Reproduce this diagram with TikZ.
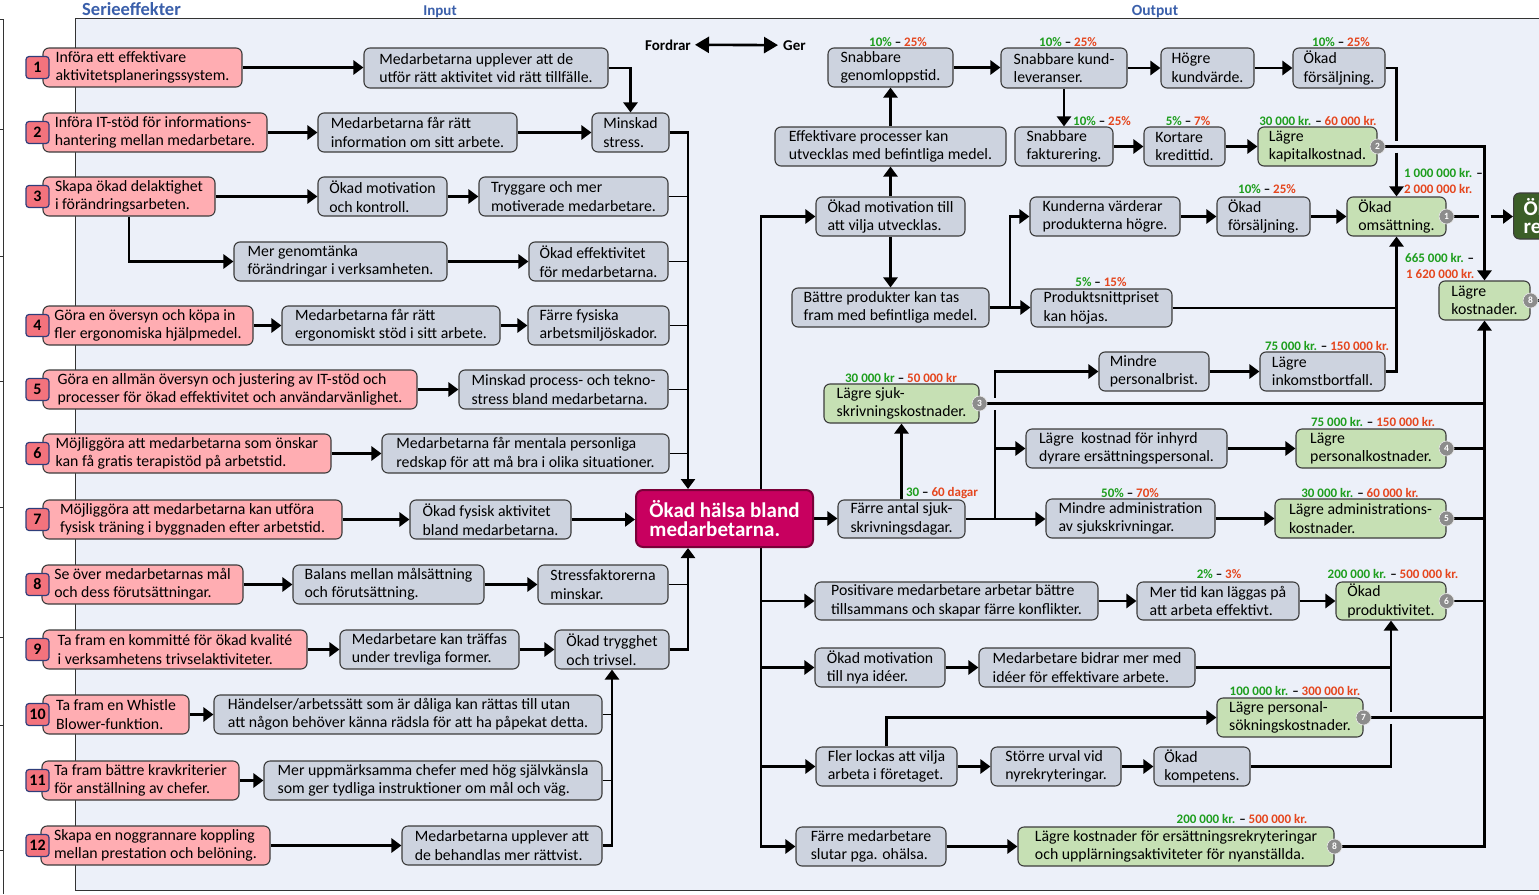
\documentclass[tikz,border=0pt]{standalone}
\usepackage{fontspec}
\setmainfont{Carlito}
\usetikzlibrary{arrows.meta,calc}
\definecolor{panelbg}{HTML}{ECF0F9}
\definecolor{gfill}{HTML}{CDD3DF}
\definecolor{bdr}{HTML}{3C3C3C}
\definecolor{rfill}{HTML}{FFADB2}
\definecolor{rbadge}{HTML}{F3737D}
\definecolor{rbadgeb}{HTML}{2F3D7A}
\definecolor{grfill}{HTML}{C6E0B4}
\definecolor{cfill}{HTML}{C8005F}
\definecolor{cdraw}{HTML}{7A0038}
\definecolor{dgfill}{HTML}{3B5E28}
\definecolor{lgreen}{HTML}{1E9E1E}
\definecolor{lred}{HTML}{E5461E}
\definecolor{tblue}{HTML}{3A5FAA}
\definecolor{gbadge}{HTML}{8C8C8C}
\pgfdeclarelayer{back}
\pgfdeclarelayer{lines}
\pgfsetlayers{back,lines,main}
\newcommand\mkbox[7]{%
 \pgfmathsetmacro\mkbw{#5-#3}%
 \pgfmathsetmacro\mkbh{#6-#4}%
 \pgfmathsetmacro\mkbx{(#3+#5)/2}%
 \pgfmathsetmacro\mkby{(#4+#6)/2}%
 \node[#2, minimum width=\mkbw pt, minimum height=\mkbh pt] (#1) at (\mkbx,\mkby) {#7};}
\newcommand\mklbl[5]{\node[lblsty] (#1) at (#2,#3) {\textcolor{lgreen}{#4} – \textcolor{lred}{#5}};}
\begin{document}
\begin{tikzpicture}[x=1pt,y=-1pt,
 mybox/.style={rounded corners=6pt, line width=1.1pt, draw=bdr, align=left, inner xsep=2pt, inner ysep=1pt, font=\fontsize{15.8pt}{18.5pt}\selectfont},
 gbox/.style={mybox, fill=gfill},
 rbox/.style={mybox, fill=rfill},
 grbox/.style={mybox, fill=grfill},
 cbox/.style={rounded corners=7pt, line width=2pt, draw=cdraw, fill=cfill, text=white, align=left, inner sep=1pt, font=\bfseries\fontsize{21pt}{18.5pt}\selectfont},
 dgbox/.style={rounded corners=6pt, line width=1.1pt, draw=bdr, fill=dgfill, text=white, align=left, inner xsep=10pt, minimum height=46pt, font=\bfseries\fontsize{21pt}{18pt}\selectfont},
 rnum/.style={rounded corners=3pt, line width=1.2pt, draw=rbadgeb, fill=rbadge, minimum width=23pt, minimum height=22pt, inner sep=0pt, font=\bfseries\fontsize{16pt}{16pt}\selectfont},
 gnum/.style={circle, fill=gbadge, draw=white!85!gray, line width=0.6pt, minimum size=15pt, inner sep=0pt, text=white, font=\bfseries\fontsize{9.5pt}{9.5pt}\selectfont},
 lblsty/.style={anchor=base, inner sep=0pt, font=\bfseries\fontsize{13pt}{13pt}\selectfont},
 lgd/.style={inner sep=0pt, font=\bfseries\fontsize{15pt}{15pt}\selectfont},
 conn/.style={line width=2.6pt},
 connthin/.style={line width=1pt},
 conarr/.style={conn, -{Triangle[length=10pt,width=14pt]}},
]
\useasboundingbox (0,0) rectangle (1539,894);
\begin{pgfonlayer}{back}
 \fill[panelbg] (75,18) rectangle (1545,890);
 \draw[line width=1pt, draw=black!80] (1545,18) -- (75,18) -- (75,890) -- (1545,890);
 \draw[line width=0.8pt, draw=black!80] (3.5,19) -- (3.5,894);
 \foreach \yy in {19,129,256,381,507,637,725,850} \draw[line width=0.8pt, draw=black!80] (0,\yy) -- (3.5,\yy);
\end{pgfonlayer}

% titles
\node[anchor=base west, inner sep=0pt, text=tblue, font=\bfseries\fontsize{18.5pt}{18pt}\selectfont] (tser) at (82,16) {Serieeffekter};
\node[anchor=base, inner sep=0pt, text=tblue, font=\bfseries\fontsize{15pt}{15pt}\selectfont] (tin) at (440,15) {Input};
\node[anchor=base, inner sep=0pt, text=tblue, font=\bfseries\fontsize{15.5pt}{15pt}\selectfont] (tout) at (1155,15) {Output};

% legend
\node[lgd, anchor=base east] (fo) at (691,50) {Fordrar};
\node[lgd, anchor=base west] (ge) at (783,50) {Ger};

% red boxes
\mkbox{R1}{rbox}{43}{48}{242}{87}{Införa ett effektivare\\aktivitetsplaneringssystem.}
\mkbox{R2}{rbox}{43}{113}{267}{152}{Införa IT-stöd för informations-\\hantering mellan medarbetare.}
\mkbox{R3}{rbox}{43}{177}{215}{216}{Skapa ökad delaktighet\\i förändringsarbeten.}
\mkbox{R4}{rbox}{43}{306}{253}{345}{Göra en översyn och köpa in\\fler ergonomiska hjälpmedel.}
\mkbox{R5}{rbox}{43}{370}{417}{409}{Göra en allmän översyn och justering av IT-stöd och\\processer för ökad effektivitet och användarvänlighet.}
\mkbox{R6}{rbox}{43}{434}{331}{473}{Möjliggöra att medarbetarna som önskar\\kan få gratis terapistöd på arbetstid.}
\mkbox{R7}{rbox}{43}{500}{342}{539}{Möjliggöra att medarbetarna kan utföra\\fysisk träning i byggnaden efter arbetstid.}
\mkbox{R8}{rbox}{42}{565}{243}{604}{Se över medarbetarnas mål\\och dess förutsättningar.}
\mkbox{R9}{rbox}{43}{630}{307}{669}{Ta fram en kommitté för ökad kvalité\\i verksamhetens trivselaktiviteter.}
\mkbox{R10}{rbox}{43}{695}{189}{734}{Ta fram en Whistle\\Blower-funktion.}
\mkbox{R11}{rbox}{42}{761}{239}{800}{Ta fram bättre kravkriterier\\för anställning av chefer.}
\mkbox{R12}{rbox}{41}{826}{270}{865}{Skapa en noggrannare koppling\\mellan prestation och belöning.}

\coordinate (bcol) at (37.5,0);
\node[rnum] (n1) at (bcol |- R1.west) {1};
\node[rnum] (n2) at (bcol |- R2.west) {2};
\node[rnum] (n3) at (bcol |- R3.west) {3};
\node[rnum] (n4) at (bcol |- R4.west) {4};
\node[rnum] (n5) at (bcol |- R5.west) {5};
\node[rnum] (n6) at (bcol |- R6.west) {6};
\node[rnum] (n7) at (bcol |- R7.west) {7};
\node[rnum] (n8) at (bcol |- R8.west) {8};
\node[rnum] (n9) at (bcol |- R9.west) {9};
\node[rnum] (n10) at (bcol |- R10.west) {10};
\node[rnum] (n11) at (bcol |- R11.west) {11};
\node[rnum] (n12) at (bcol |- R12.west) {12};

% grey input boxes
\mkbox{G1}{gbox}{364}{48}{608}{88}{Medarbetarna upplever att de\\utför rätt aktivitet vid rätt tillfälle.}
\mkbox{G2}{gbox}{318}{113}{517}{152}{Medarbetarna får rätt\\information om sitt arbete.}
\mkbox{G3}{gbox}{592}{113}{669}{152}{Minskad\\stress.}
\mkbox{G4}{gbox}{318}{177}{447}{216}{Ökad motivation\\och kontroll.}
\mkbox{G5}{gbox}{479}{177}{668}{216}{Tryggare och mer\\motiverade medarbetare.}
\mkbox{G6}{gbox}{234}{242}{447}{281}{Mer genomtänka\\förändringar i verksamheten.}
\mkbox{G7}{gbox}{529}{242}{668}{281}{Ökad effektivitet\\för medarbetarna.}
\mkbox{G8}{gbox}{282}{306}{500}{345}{Medarbetarna får rätt\\ergonomiskt stöd i sitt arbete.}
\mkbox{G9}{gbox}{528}{306}{669}{345}{Färre fysiska\\arbetsmiljöskador.}
\mkbox{G10}{gbox}{459}{370}{668}{409}{Minskad process- och tekno-\\stress bland medarbetarna.}
\mkbox{G11}{gbox}{382}{434}{669}{473}{Medarbetarna får mentala personliga\\redskap för att må bra i olika situationer.}
\mkbox{G12}{gbox}{410}{500}{571}{539}{Ökad fysisk aktivitet\\bland medarbetarna.}
\mkbox{G13}{gbox}{293}{565}{484}{604}{Balans mellan målsättning\\och förutsättning.}
\mkbox{G14}{gbox}{538}{565}{668}{604}{Stressfaktorerna\\minskar.}
\mkbox{G15}{gbox}{340}{630}{519}{669}{Medarbetare kan träffas\\under trevliga former.}
\mkbox{G16}{gbox}{555}{630}{669}{669}{Ökad trygghet\\och trivsel.}
\mkbox{G17}{gbox}{214}{695}{602}{734}{Händelser/arbetssätt som är dåliga kan rättas till utan\\att någon behöver känna rädsla för att ha påpekat detta.}
\mkbox{G18}{gbox}{264}{761}{602}{800}{Mer uppmärksamma chefer med hög självkänsla\\som ger tydliga instruktioner om mål och väg.}
\mkbox{G19}{gbox}{402}{826}{602}{865}{Medarbetarna upplever att\\de behandlas mer rättvist.}

% hub
\mkbox{hub}{cbox}{636}{490}{813}{547}{Ökad hälsa bland\\medarbetarna.}

% output boxes
\mkbox{O1}{gbox}{828}{48}{953}{87}{Snabbare\\genomloppstid.}
\mkbox{O2}{gbox}{1001}{48}{1127}{88}{Snabbare kund-\\leveranser.}
\mkbox{O3}{gbox}{1161}{48}{1254}{88}{Högre\\kundvärde.}
\mkbox{O4}{gbox}{1293}{48}{1385}{88}{Ökad\\försäljning.}
\mkbox{O5}{gbox}{775}{127}{1006}{166}{Effektivare processer kan\\utvecklas med befintliga medel.}
\mkbox{O6}{gbox}{1015}{127}{1113}{166}{Snabbare\\fakturering.}
\mkbox{O7}{gbox}{1144}{127}{1225}{166}{Kortare\\kredittid.}
\mkbox{O8}{grbox}{1258}{127}{1377}{166}{Lägre\\kapitalkostnad.}
\mkbox{O9}{gbox}{816}{197}{965}{236}{Ökad motivation till\\att vilja utvecklas.}
\mkbox{O10}{gbox}{1030}{197}{1180}{236}{Kunderna värderar\\produkterna högre.}
\mkbox{O11}{gbox}{1217}{197}{1310}{236}{Ökad\\försäljning.}
\mkbox{O12}{grbox}{1347}{197}{1446}{236}{Ökad\\omsättning.}
\node[dgbox, anchor=west] (O13) at (1513,216) {Ökat\\resultat.};
\mkbox{O14}{grbox}{1439}{281}{1530}{320}{Lägre\\kostnader.}
\mkbox{O15}{gbox}{792}{288}{989}{327}{Bättre produkter kan tas\\fram med befintliga medel.}
\mkbox{O16}{gbox}{1031}{289}{1172}{327}{Produktsnittpriset\\kan höjas.}
\mkbox{O17}{gbox}{1099}{352}{1209}{391}{Mindre\\personalbrist.}
\mkbox{O18}{gbox}{1260}{352}{1385}{391}{Lägre\\inkomstbortfall.}
\mkbox{O19}{grbox}{824}{384}{979}{423}{Lägre sjuk-\\skrivningskostnader.}
\mkbox{O20}{gbox}{1026}{429}{1227}{468}{Lägre~ kostnad för inhyrd\\dyrare ersättningspersonal.}
\mkbox{O21}{grbox}{1296}{429}{1446}{468}{Lägre\\personalkostnader.}
\mkbox{O22}{gbox}{838}{500}{965}{538}{Färre antal sjuk-\\skrivningsdagar.}
\mkbox{O27}{gbox}{1046}{499}{1215}{538}{Mindre administration\\av sjukskrivningar.}
\mkbox{O28}{grbox}{1275}{499}{1446}{538}{Lägre administrations-\\kostnader.}
\mkbox{O23}{gbox}{815}{582}{1098}{620}{Positivare medarbetare arbetar bättre\\tillsammans och skapar färre konflikter.}
\mkbox{O29}{gbox}{1137}{582}{1299}{620}{Mer tid kan läggas på\\att arbeta effektivt.}
\mkbox{O30}{grbox}{1336}{582}{1446}{620}{Ökad\\produktivitet.}
\mkbox{O24}{gbox}{815}{648}{945}{687}{Ökad motivation\\till nya idéer.}
\mkbox{O31}{gbox}{979}{648}{1195}{687}{Medarbetare bidrar mer med\\idéer för effektivare arbete.}
\mkbox{O32}{grbox}{1217}{698}{1363}{737}{Lägre personal-\\sökningskostnader.}
\mkbox{O25}{gbox}{816}{747}{957}{786}{Fler lockas att vilja\\arbeta i företaget.}
\mkbox{O33}{gbox}{991}{747}{1121}{786}{Större urval vid\\nyrekryteringar.}
\mkbox{O34}{gbox}{1154}{747}{1250}{786}{Ökad\\kompetens.}
\mkbox{O26}{gbox}{796}{827}{946}{866}{Färre medarbetare\\slutar pga. ohälsa.}
\mkbox{O35}{grbox}{1018}{827}{1334}{866}{Lägre kostnader för ersättningsrekryteringar\\och upplärningsaktiviteter för nyanställda.}

% grey badges
\node[gnum] (b1) at (O12.east) {1};
\node[gnum] (b2) at (O8.east) {2};
\node[gnum] (b3) at (O19.east) {3};
\node[gnum] (b4) at (O21.east) {4};
\node[gnum] (b5) at (O28.east) {5};
\node[gnum] (b6) at (O30.east) {6};
\node[gnum] (b7) at (O32.east) {7};
\node[gnum] (b8) at (O14.east) {8};
\node[gnum] (b8b) at (O35.east) {8};

% value labels
\mklbl{l1}{898}{46}{10\%}{25\%}
\mklbl{l2}{1068}{46}{10\%}{25\%}
\mklbl{l3}{1341}{46}{10\%}{25\%}
\mklbl{l4}{1102}{125}{10\%}{25\%}
\mklbl{l5}{1188}{125}{5\%}{7\%}
\mklbl{l6}{1318}{125}{30 000 kr.}{60 000 kr.}
\node[lblsty, anchor=base west] (l7) at (1404,177) {\textcolor{lgreen}{1 000 000 kr.} –};
\node[lblsty, anchor=base west] (l8) at (1404,193) {\textcolor{lred}{2 000 000 kr.}};
\mklbl{l9}{1267}{193}{10\%}{25\%}
\mklbl{l10}{1101}{286}{5\%}{15\%}
\node[lblsty, anchor=base west] (l11) at (1405,262) {\textcolor{lgreen}{665 000 kr.} –};
\node[lblsty, anchor=base west] (l12) at (1406,278) {\textcolor{lred}{1 620 000 kr.}};
\mklbl{l13}{1327}{350}{75 000 kr.}{150 000 kr.}
\mklbl{l14}{901}{382}{30 000 kr}{50 000 kr}
\mklbl{l15}{1373}{426}{75 000 kr.}{150 000 kr.}
\mklbl{l16}{942}{496}{30}{60 dagar}
\mklbl{l17}{1130}{497}{50\%}{70\%}
\mklbl{l18}{1360}{497}{30 000 kr.}{60 000 kr.}
\mklbl{l19}{1219}{578}{2\%}{3\%}
\mklbl{l20}{1393}{578}{200 000 kr.}{500 000 kr.}
\mklbl{l21}{1295}{695}{100 000 kr.}{300 000 kr.}
\mklbl{l22}{1242}{823}{200 000 kr.}{500 000 kr.}

\coordinate (busA) at (688,0);
\coordinate (busD) at (761,0);
\coordinate (busE) at (1010,0);
\coordinate (busF) at (995,0);
\coordinate (r3x) at (129,0);
\coordinate (edgeR) at (1545,0);

\begin{pgfonlayer}{lines}
\draw[line width=2.6pt, {Triangle[length=14pt,width=16pt]}-{Triangle[length=14pt,width=16pt]}] ($(fo.east)+(4,0)$) -- ($(ge.west)+(-5,0)$);
% input side
\draw[conarr] (R1.east) -- (R1.east -| G1.west);
\draw[conarr] (G1.east) -| (G3.north);
\draw[conarr] (R2.east) -- (R2.east -| G2.west);
\draw[conarr] (G2.east) -- (G2.east -| G3.west);
\draw[conarr] (R3.east) -- (R3.east -| G4.west);
\draw[conarr] (G4.east) -- (G4.east -| G5.west);
\draw[conarr] (r3x |- R3.south) |- (G6.west);
\draw[conarr] (G6.east) -- (G6.east -| G7.west);
\draw[conarr] (R4.east) -- (R4.east -| G8.west);
\draw[conarr] (G8.east) -- (G8.east -| G9.west);
\draw[conarr] (R5.east) -- (R5.east -| G10.west);
\draw[conarr] (R6.east) -- (R6.east -| G11.west);
\draw[conarr] (R7.east) -- (R7.east -| G12.west);
\draw[conarr] (G12.east) -- (G12.east -| hub.west);
\draw[conarr] (R8.east) -- (R8.east -| G13.west);
\draw[conarr] (G13.east) -- (G13.east -| G14.west);
\draw[conarr] (R9.east) -- (R9.east -| G15.west);
\draw[conarr] (G15.east) -- (G15.east -| G16.west);
\draw[conarr] (R10.east) -- (R10.east -| G17.west);
\draw[conarr] (R11.east) -- (R11.east -| G18.west);
\draw[conarr] (R12.east) -- (R12.east -| G19.west);
\draw[conarr] (G3.east) -| (hub.north -| busA);
\foreach \nn in {G5,G7,G9,G10,G11} \draw[connthin] (\nn.east) -- (\nn.east -| busA);
\draw[conarr] (G16.east) -| (hub.south -| busA);
\draw[connthin] (G14.east) -- (G14.east -| busA);
\draw[conarr] (G19.east) -| (G16.south);
\foreach \nn in {G17,G18} \draw[connthin] (\nn.east) -- (\nn.east -| G16.south);
% hub outputs
\draw[conarr] (hub.east) -- (hub.east -| O22.west);
\draw[conarr] (busD |- O26.west) |- (O9.west);
\draw[conarr] (busD |- O23.west) |- (O26.west);
\draw[conarr] (busD |- O23.west) -- (O23.west);
\draw[conarr] (busD |- O24.west) -- (O24.west);
\draw[conarr] (busD |- O25.west) -- (O25.west);
% upper right
\draw[conarr] (O9.north) -- (O5.south);
\draw[conarr] (O5.north) -- (O1.south);
\draw[conarr] (O9.south) -- (O15.north);
\draw[conarr] (O1.east) -- (O1.east -| O2.west);
\draw[conarr] (O2.east) -- (O2.east -| O3.west);
\draw[conarr] (O3.east) -- (O3.east -| O4.west);
\draw[conarr] (O2.south) -- (O2.south |- O6.north);
\draw[conarr] (O6.east) -- (O6.east -| O7.west);
\draw[conarr] (O7.east) -- (O7.east -| O8.west);
\draw[conn] (O4.east) -| ($(O12.north |- b2)+(0,-6)$);
\draw[conarr] ($(O12.north |- b2)+(0,6)$) -- (O12.north);
\draw[conarr] (b2) -| (O14.north);
\draw[conn] (b1) -- ($(b1 -| O14.north)+(-6,0)$);
\draw[conarr] ($(b1 -| O14.north)+(6,0)$) -- (b1 -| O13.west);
\draw[conn] (b8) -- (b8 -| edgeR);
\draw[conarr] (O15.east) -| (busE |- O10.west) -- (O10.west);
\draw[conarr] (O15.east) -- (O15.east -| O16.west);
\draw[conarr] (O10.east) -- (O10.east -| O11.west);
\draw[conarr] (O11.east) -- (O11.east -| O12.west);
\draw[conarr] (O16.east) -| (O12.south);
\draw[conn] (O18.east) -| (O16.east -| O12.south);
\draw[conarr] (O17.east) -- (O17.east -| O18.west);
% sick leave
\draw[conarr] (O22.north) -- (O19.south);
\draw[conarr] (O22.east) -- (O22.east -| O27.west);
\draw[conn] (busF |- O22.east) -- ($(busF |- b3)+(0,6)$);
\draw[conarr] ($(busF |- b3)+(0,-6)$) |- (O17.west);
\draw[conarr] (busF |- O20.west) -- (O20.west);
\draw[conarr] (O20.east) -- (O20.east -| O21.west);
\draw[conarr] (O27.east) -- (O27.east -| O28.west);
\foreach \bb in {b3,b4,b5,b6,b7} \draw[conn] (\bb) -- (\bb -| O14.south);
\draw[conarr] (b8b) -| (O14.south);
% lower right
\draw[conarr] (O23.east) -- (O23.east -| O29.west);
\draw[conarr] (O29.east) -- (O29.east -| O30.west);
\draw[conarr] (O24.east) -- (O24.east -| O31.west);
\draw[conn] (O31.east) -- (O31.east -| O30.south);
\draw[conn] (O34.east) -| ($(O30.south |- b7)+(0,6)$);
\draw[conarr] ($(O30.south |- b7)+(0,-6)$) -- (O30.south);
\draw[conarr] (O25.north) |- (O32.west);
\draw[conarr] (O25.east) -- (O25.east -| O33.west);
\draw[conarr] (O33.east) -- (O33.east -| O34.west);
\draw[conarr] (O26.east) -- (O26.east -| O35.west);
\end{pgfonlayer}
\end{tikzpicture}
\end{document}
